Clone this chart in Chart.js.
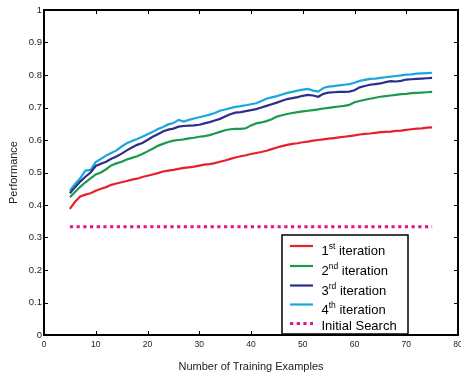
<!DOCTYPE html>
<html>
<head>
<meta charset="utf-8">
<script src="https://cdn.jsdelivr.net/npm/chart.js@4/dist/chart.umd.min.js"></script>
<style>
html,body{margin:0;padding:0;background:#fff;}
#wrap{width:461px;height:376px;position:relative;}
</style>
</head>
<body>
<div id="wrap"><canvas id="c" width="461" height="376"></canvas></div>
<script>
// ---- data ----
const trainingExamples = [5,6,7,8,9,10,11,12,13,14,15,16,17,18,19,20,21,22,23,24,25,26,27,28,29,30,31,32,33,34,35,36,37,38,39,40,41,42,43,44,45,46,47,48,49,50,51,52,53,54,55,56,57,58,59,60,61,62,63,64,65,66,67,68,69,70,71,72,73,74,75];
const iteration1 = [.388,.410,.426,.432,.436,.444,.450,.455,.462,.466,.470,.474,.478,.481,.486,.490,.494,.498,.503,.506,.508,.511,.514,.516,.518,.521,.524,.526,.529,.533,.537,.542,.546,.550,.553,.557,.560,.563,.567,.572,.577,.581,.585,.588,.590,.593,.595,.598,.600,.602,.604,.606,.608,.610,.612,.614,.617,.619,.620,.622,.624,.625,.626,.628,.629,.631,.633,.635,.636,.638,.639];
const iteration2 = [.424,.440,.456,.470,.482,.494,.500,.510,.522,.528,.533,.540,.545,.550,.557,.565,.573,.582,.588,.594,.598,.600,.602,.605,.607,.610,.612,.615,.620,.625,.630,.633,.634,.634,.636,.645,.651,.654,.658,.664,.672,.676,.680,.683,.686,.688,.690,.692,.694,.697,.699,.701,.703,.705,.708,.716,.720,.724,.727,.730,.733,.735,.737,.739,.741,.742,.744,.745,.746,.747,.748];
const iteration3 = [.436,.455,.472,.487,.500,.520,.527,.533,.542,.549,.558,.568,.577,.585,.591,.600,.610,.618,.626,.632,.635,.641,.643,.644,.645,.647,.651,.655,.660,.665,.672,.679,.684,.686,.689,.692,.695,.700,.705,.710,.715,.721,.726,.729,.732,.736,.739,.737,.733,.742,.746,.747,.748,.748,.749,.753,.762,.766,.770,.772,.774,.778,.781,.780,.782,.786,.787,.788,.789,.790,.791];
const iteration4 = [.444,.465,.482,.506,.508,.532,.542,.552,.560,.568,.580,.590,.597,.603,.610,.618,.625,.634,.640,.648,.652,.662,.657,.662,.666,.670,.674,.678,.683,.690,.694,.698,.702,.704,.707,.710,.713,.720,.727,.731,.735,.740,.745,.748,.752,.755,.757,.752,.749,.760,.764,.766,.768,.770,.772,.776,.782,.785,.788,.789,.791,.793,.795,.797,.799,.801,.802,.804,.805,.806,.807];
const initialSearch = 0.333;
const seriesLabels = ['1st iteration','2nd iteration','3rd iteration','4th iteration','Initial Search'];
const legendNumbers = ['1','2','3','4',''];
const legendSuperscripts = ['st','nd','rd','th',''];
const legendWords = ['iteration','iteration','iteration','iteration','Initial Search'];
const xTickValues = [0,10,20,30,40,50,60,70,80];
const yTickValues = [0,0.1,0.2,0.3,0.4,0.5,0.6,0.7,0.8,0.9,1];
const xTitle = 'Number of Training Examples';
const yTitle = 'Performance';

const colors = ['#e3222b','#1a9b4b','#2c2e8c','#1ca7dc','#e5137f'];
const FONT = '"Liberation Sans", Arial, Helvetica, sans-serif';

const toPts = arr => trainingExamples.map((x,i)=>({x:x,y:arr[i]}));
const flat = trainingExamples.map(x=>({x:x,y:initialSearch}));

const datasets = [iteration1,iteration2,iteration3,iteration4].map((arr,i)=>({
  label: seriesLabels[i], data: toPts(arr), borderColor: colors[i], borderWidth: 2.2,
  pointRadius: 0, tension: 0, fill: false
}));
datasets.push({label: seriesLabels[4], data: flat, borderColor: colors[4], borderWidth: 3,
  borderDash:[3.2,3.5], borderCapStyle:'butt', pointRadius:0, fill:false});

const framePlugin = {
  id:'frame',
  afterDraw(chart){
    const ctx = chart.ctx, a = chart.chartArea;
    const xs = chart.scales.x, ys = chart.scales.y;
    ctx.save();
    ctx.strokeStyle = '#000';
    ctx.lineWidth = 1;
    ctx.beginPath();
    xTickValues.forEach(v=>{
      const px = Math.round(xs.getPixelForValue(v))+0.5;
      ctx.moveTo(px,a.bottom); ctx.lineTo(px,a.bottom-4);
      ctx.moveTo(px,a.top); ctx.lineTo(px,a.top+4);
    });
    yTickValues.forEach(v=>{
      const py = Math.round(ys.getPixelForValue(v))+0.5;
      ctx.moveTo(a.left,py); ctx.lineTo(a.left+4,py);
      ctx.moveTo(a.right,py); ctx.lineTo(a.right-4,py);
    });
    ctx.stroke();
    ctx.lineWidth = 2;
    ctx.strokeRect(a.left, a.top, a.right-a.left, a.bottom-a.top);

    // legend
    const bx=282, by=235, bw=126, bh=99;
    ctx.fillStyle='#fff';
    ctx.fillRect(bx,by,bw,bh);
    ctx.lineWidth=1.5;
    ctx.strokeStyle='#000';
    ctx.strokeRect(bx,by,bw,bh);
    const lineYs=[246,266,285.5,304.5,323.5];
    const baseYs=[254.5,274.5,294.5,314,330];
    chart.data.datasets.forEach((ds,i)=>{
      ctx.save();
      ctx.strokeStyle=ds.borderColor;
      ctx.lineWidth=ds.borderWidth;
      if(ds.borderDash) ctx.setLineDash(ds.borderDash);
      ctx.beginPath(); ctx.moveTo(290,lineYs[i]); ctx.lineTo(313,lineYs[i]); ctx.stroke();
      ctx.restore();
      ctx.fillStyle='#000';
      ctx.textBaseline='alphabetic';
      ctx.textAlign='left';
      let tx=321.5;
      if(legendNumbers[i]){
        ctx.font='13px '+FONT;
        ctx.fillText(legendNumbers[i],tx,baseYs[i]);
        tx+=ctx.measureText(legendNumbers[i]).width;
        ctx.font='8.5px '+FONT;
        ctx.fillText(legendSuperscripts[i],tx,baseYs[i]-6);
        tx+=ctx.measureText(legendSuperscripts[i]).width;
        ctx.font='13px '+FONT;
        tx+=ctx.measureText(' ').width;
      }
      ctx.font='13px '+FONT;
      ctx.fillText(legendWords[i],tx,baseYs[i]);
    });
    ctx.restore();
  }
};

new Chart(document.getElementById('c'),{
  type:'line',
  data:{datasets:datasets},
  options:{
    responsive:false, animation:false,
    layout:{padding:{left:0,right:3,top:10,bottom:0}},
    plugins:{legend:{display:false},tooltip:{enabled:false}},
    scales:{
      x:{type:'linear',min:0,max:80,
        afterBuildTicks:s=>{s.ticks=xTickValues.map(v=>({value:v}));},
        afterFit:s=>{s.height=41;s.paddingLeft=0;s.paddingRight=0;},
        grid:{display:false,drawTicks:false},
        border:{display:false},
        ticks:{padding:5,color:'#222',maxRotation:0,autoSkip:false,font:{family:FONT,size:8.5}},
        title:{display:true,text:xTitle,color:'#222',padding:{top:0,bottom:2.5},font:{family:FONT,size:11}}
      },
      y:{type:'linear',min:0,max:1,
        afterBuildTicks:s=>{s.ticks=yTickValues.map(v=>({value:v}));},
        afterFit:s=>{s.width=44;s.paddingTop=0;s.paddingBottom=0;},
        grid:{display:false,drawTicks:false},
        border:{display:false},
        ticks:{padding:2,color:'#222',autoSkip:false,font:{family:FONT,size:9.5},
          callback:v=>String(+v.toFixed(1))},
        title:{display:true,text:yTitle,color:'#222',padding:{top:7.4,bottom:0},font:{family:FONT,size:11}}
      }
    }
  },
  plugins:[framePlugin]
});
</script>
</body>
</html>
